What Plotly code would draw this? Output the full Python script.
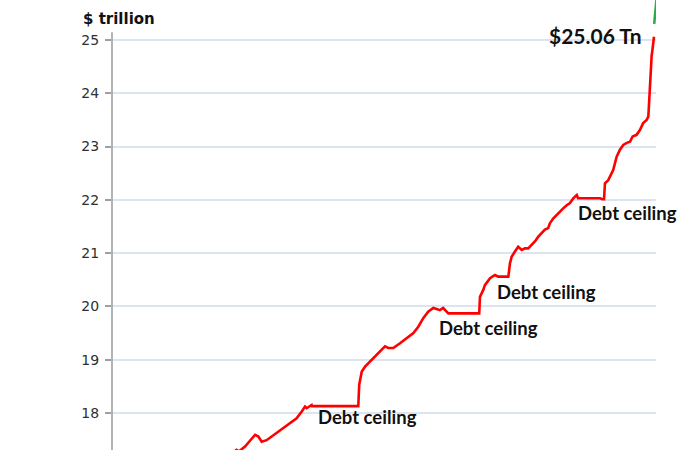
import plotly.graph_objects as go

# ---- data ----
debt_dates = [
    "2014-01-15", "2014-01-27", "2014-02-10", "2014-03-15", "2014-04-11", "2014-05-09",
    "2014-05-27", "2014-06-14", "2014-07-11", "2014-08-08", "2014-08-26", "2014-09-22",
    "2014-10-19", "2014-11-25", "2014-12-22", "2015-01-19", "2015-02-06", "2015-02-15",
    "2015-03-14", "2015-03-16", "2015-11-24", "2015-11-29", "2015-12-13", "2015-12-31",
    "2016-01-18", "2016-02-05", "2016-02-23", "2016-03-22", "2016-04-18", "2016-05-06",
    "2016-06-02", "2016-07-09", "2016-08-14", "2016-09-20", "2016-10-17", "2016-11-13",
    "2016-12-10", "2017-01-07", "2017-01-25", "2017-02-12", "2017-03-02", "2017-03-21",
    "2017-03-30", "2017-09-15", "2017-09-19", "2017-10-07", "2017-10-16", "2017-11-13",
    "2017-12-10", "2017-12-28", "2018-02-21", "2018-03-02", "2018-03-11", "2018-03-29",
    "2018-04-16", "2018-05-05", "2018-05-23", "2018-06-10", "2018-06-28", "2018-07-16",
    "2018-08-04", "2018-08-22", "2018-09-09", "2018-09-27", "2018-10-06", "2018-10-24",
    "2018-11-12", "2018-11-30", "2018-12-18", "2019-01-06", "2019-01-24", "2019-02-11",
    "2019-03-02", "2019-03-09", "2019-07-07", "2019-07-20", "2019-07-29", "2019-08-03",
    "2019-08-21", "2019-09-17", "2019-10-06", "2019-10-24", "2019-11-11", "2019-11-30",
    "2019-12-18", "2020-01-01", "2020-01-23", "2020-02-10", "2020-02-28", "2020-03-18",
    "2020-03-27", "2020-04-01", "2020-04-05", "2020-04-09", "2020-04-14", "2020-04-23",
    "2020-04-27",
]
debt_values = [
    17.27, 17.31, 17.28, 17.37, 17.48, 17.59,
    17.56, 17.46, 17.49, 17.56, 17.62, 17.68,
    17.74, 17.84, 17.90, 18.03, 18.12, 18.09,
    18.15, 18.13, 18.13, 18.53, 18.78, 18.87,
    18.93, 19.00, 19.06, 19.15, 19.25, 19.22,
    19.22, 19.31, 19.40, 19.50, 19.62, 19.78,
    19.90, 19.97, 19.95, 19.93, 19.97, 19.90,
    19.87, 19.87, 20.18, 20.31, 20.40, 20.53,
    20.59, 20.56, 20.56, 20.81, 20.93, 21.03,
    21.12, 21.06, 21.09, 21.09, 21.15, 21.22,
    21.31, 21.37, 21.44, 21.47, 21.56, 21.65,
    21.72, 21.78, 21.84, 21.90, 21.94, 22.03,
    22.09, 22.03, 22.03, 22.01, 22.01, 22.31,
    22.37, 22.56, 22.81, 22.94, 23.03, 23.07,
    23.09, 23.19, 23.22, 23.31, 23.44, 23.50,
    23.56, 23.87, 24.19, 24.50, 24.69, 24.94,
    25.06,
]
recent_dates = ["2020-04-28", "2020-05-05", "2020-05-13"]
recent_values = [25.30, 25.56, 25.84]

y_ticks = [18, 19, 20, 21, 22, 23, 24, 25]
unit_label = "$ trillion"
latest_label = "$25.06 Tn"
ceiling_label = "Debt ceiling"

# ---- figure ----
fig = go.Figure()
fig.add_trace(go.Scatter(x=debt_dates, y=debt_values, mode="lines",
                         line=dict(color="#ff0000", width=2.6), hoverinfo="skip"))
fig.add_trace(go.Scatter(x=recent_dates, y=recent_values, mode="lines",
                         line=dict(color="#2eaa4a", width=2.6), hoverinfo="skip"))

fig.update_layout(
    width=692, height=450,
    margin=dict(l=112, r=36, t=0, b=0, autoexpand=False),
    paper_bgcolor="white", plot_bgcolor="white",
    showlegend=False,
    font=dict(family="DejaVu Sans", color="#333333"),
)
fig.update_xaxes(range=["2012-03-18", "2020-05-08"], showgrid=False, zeroline=False,
                 showline=False, showticklabels=False, ticks="")
fig.update_yaxes(range=[17.306, 25.75], tickvals=y_ticks, ticktext=[str(v) for v in y_ticks],
                 showgrid=True, gridcolor="#dbe4f0", gridwidth=1.5,
                 zeroline=False, showline=False,
                 ticks="outside", ticklen=6, tickwidth=1.5, tickcolor="#a0a0a0",
                 ticklabelstandoff=3,
                 tickfont=dict(family="DejaVu Sans", size=14, color="#2f2f2f"))

# y axis line (starts just above the 25 gridline)
fig.add_shape(type="line", xref="paper", yref="y", x0=0, x1=0, y0=17.306, y1=25.145,
              line=dict(color="#a0a0a0", width=1.6), layer="above")

# white patches that interrupt gridlines behind labels (drawn under the line)
mask_boxes = [(0.3695, 0.5790, 0.0489, 0.0933),   # first "Debt ceiling"
              (0.7776, 0.9926, 0.8889, 0.9444)]   # "$25.06 Tn"
for x0, x1, y0, y1 in mask_boxes:
    fig.add_shape(type="rect", xref="paper", yref="paper", x0=x0, x1=x1, y0=y0, y1=y1,
                  fillcolor="white", line=dict(width=0), layer="between")

fig.add_annotation(text=unit_label, xref="paper", yref="paper", x=-0.057, y=0.958,
                   xanchor="left", yanchor="middle", showarrow=False,
                   font=dict(family="DejaVu Sans", size=15, color="#111111", weight="bold"))
fig.add_annotation(text=latest_label, xref="paper", yref="paper", x=0.8897, y=0.92,
                   xanchor="center", yanchor="middle", showarrow=False,
                   font=dict(family="Lato", size=21, color="#111111", weight="bold"))

ceiling_pos = [(0.4697, 0.0733), (0.692, 0.2711), (0.7978, 0.3511), (0.9485, 0.5267)]
for px, py in ceiling_pos:
    fig.add_annotation(text=ceiling_label, xref="paper", yref="paper", x=px, y=py,
                       xanchor="center", yanchor="middle", showarrow=False,
                       font=dict(family="Lato", size=18.5, color="#111111", weight="bold"))

fig.write_html("out.html", config={"displayModeBar": False},
               post_script="document.body.style.margin='0';")
